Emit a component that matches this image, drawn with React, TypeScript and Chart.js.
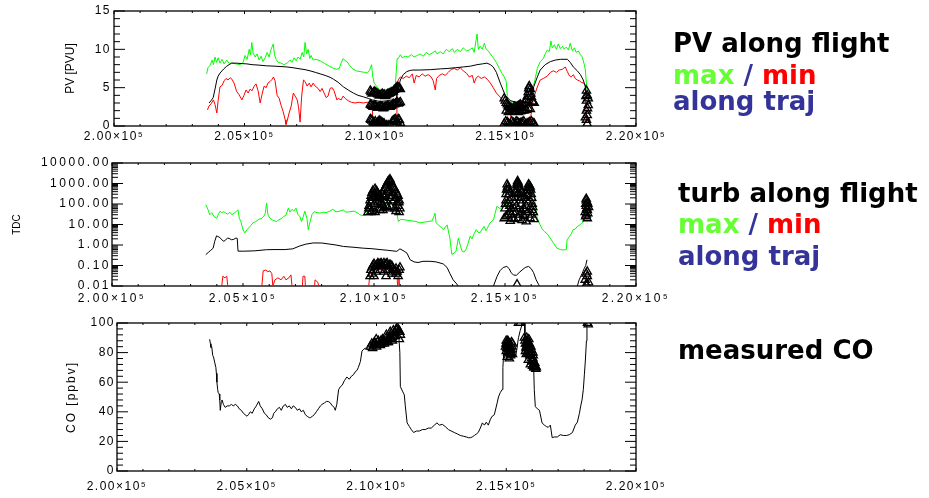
import React, { useEffect, useRef } from "react";
import { Chart, registerables } from "chart.js";
Chart.register(...registerables);

type Pt = [number, number | null];

// ---------- axes ----------
const X_MIN = 200000;
const X_MAX = 220000;
const X_TICKS = [200000, 205000, 210000, 215000, 220000];
const PV_TICKS = [0, 5, 10, 15];
const TDC_TICKS = [0.01, 0.1, 1, 10, 100, 1000, 10000];
const CO_TICKS = [0, 20, 40, 60, 80, 100];

// ---------- panel 1 : PV [PVU] ----------
const PV_MAX: Pt[] = [
  [203550, 6.8], [203600, 7.6], [203680, 7.9], [203760, 8.6], [203810, 8.0], [203870, 9.0], [203930, 8.3],
  [203990, 8.9], [204060, 8.2], [204140, 8.7], [204220, 8.1], [204320, 8.6], [204410, 8.2], [204520, 8.2],
  [204680, 8.1], [204830, 8.0], [204950, 8.3], [205020, 9.2], [205100, 8.7], [205180, 10.0], [205230, 9.3],
  [205280, 10.9], [205330, 9.5], [205410, 9.0], [205480, 9.4], [205560, 8.6], [205640, 9.1], [205710, 8.4],
  [205790, 8.9], [205870, 9.6], [205940, 9.0], [206020, 10.0], [206100, 10.7], [206150, 9.3], [206210, 8.7],
  [206290, 8.3], [206400, 8.2], [206520, 8.0], [206630, 8.2], [206750, 8.6], [206820, 8.3], [206900, 8.9],
  [206980, 8.5], [207050, 9.0], [207130, 8.7], [207210, 9.6], [207270, 9.0], [207320, 10.9], [207380, 9.4],
  [207440, 10.0], [207500, 8.8], [207550, 9.2], [207630, 8.6], [207740, 8.7], [207900, 8.5], [208050, 8.2],
  [208200, 7.9], [208360, 7.6], [208510, 7.4], [208630, 7.5], [208700, 8.2], [208780, 8.8], [208860, 8.5],
  [208930, 8.4], [209050, 7.8], [209160, 7.4], [209280, 7.2], [209430, 7.1], [209590, 7.0], [209700, 6.9],
  [209780, 7.2], [209870, 8.0], [209910, 6.5], [209970, 5.6], [210200, 4.6], [210500, 4.8], [210770, 5.0],
  [210850, 8.8], [210890, 8.8], [210970, 9.3], [211040, 8.9], [211160, 9.1], [211270, 9.0], [211390, 9.3],
  [211500, 9.0], [211620, 9.2], [211730, 9.4], [211850, 9.1], [211960, 9.6], [212080, 9.3], [212190, 9.5],
  [212310, 9.8], [212380, 9.4], [212500, 9.7], [212610, 9.4], [212730, 10.0], [212840, 9.7], [212960, 10.1],
  [213040, 9.6], [213150, 10.0], [213270, 9.7], [213380, 10.2], [213500, 9.8], [213610, 9.9], [213730, 10.2],
  [213800, 9.6], [213910, 12.0], [213960, 10.0], [214030, 10.4], [214110, 10.0], [214190, 10.8], [214260, 10.0],
  [214340, 9.8], [214420, 9.4], [214530, 8.9], [214650, 8.3], [214760, 7.5], [214880, 6.8], [214950, 6.4],
  [215030, 5.8], [215070, 3.8], [215260, 3.0], [215570, 3.2], [215830, 4.0], [215990, 4.9], [216100, 5.6],
  [216220, 7.5], [216330, 8.4], [216450, 8.8], [216520, 9.4], [216600, 9.9], [216680, 9.7], [216740, 11.1],
  [216790, 10.2], [216870, 10.6], [216950, 10.0], [217020, 10.7], [217100, 10.1], [217180, 10.4], [217250, 10.0],
  [217330, 10.3], [217410, 9.9], [217480, 10.8], [217560, 9.8], [217640, 10.2], [217710, 9.6], [217790, 9.8],
  [217870, 9.3], [217940, 9.0], [218020, 8.0], [218060, 7.3], [218120, 4.7],
];
const PV_MIN: Pt[] = [
  [203580, 2.1], [203640, 2.6], [203720, 2.9], [203810, 3.4], [203870, 2.8], [203940, 1.7], [203990, 3.3],
  [204060, 5.1], [204140, 5.3], [204220, 5.9], [204290, 6.2], [204370, 6.0], [204450, 6.3], [204520, 6.1],
  [204600, 5.6], [204700, 4.5], [204790, 4.1], [204900, 3.4], [204980, 4.0], [205060, 4.7], [205140, 4.3],
  [205210, 4.8], [205290, 4.6], [205370, 5.2], [205440, 5.5], [205520, 4.6], [205600, 3.0], [205670, 4.1],
  [205750, 5.2], [205830, 5.0], [205900, 5.6], [205980, 5.8], [206060, 6.1], [206110, 6.4], [206170, 5.9],
  [206250, 4.0], [206330, 3.6], [206400, 2.7], [206480, 1.9], [206560, 0.8], [206590, 0.2], [206630, 0.6],
  [206710, 1.7], [206790, 2.6], [206870, 4.3], [206940, 3.9], [207020, 3.4], [207070, 2.5], [207130, 0.5],
  [207190, 3.9], [207260, 6.0], [207320, 5.8], [207400, 5.2], [207480, 5.6], [207550, 5.1], [207630, 5.6],
  [207710, 5.2], [207820, 4.9], [207900, 4.5], [207970, 4.9], [208050, 4.3], [208130, 3.7], [208200, 3.9],
  [208280, 4.9], [208360, 5.0], [208430, 4.6], [208540, 3.4], [208590, 3.6], [208700, 3.4], [208780, 3.9],
  [208860, 3.6], [208970, 3.3], [209090, 3.1], [209240, 3.0], [209390, 3.1], [209550, 3.0], [209700, 3.1],
  [209820, 3.0], [209890, 2.5], [209930, 0.3], [210200, 0.4], [210580, 0.3], [210810, 0.4], [210840, 5.1],
  [210890, 6.0], [210970, 6.4], [211080, 6.2], [211200, 6.5], [211310, 6.3], [211430, 6.8], [211500, 5.6],
  [211580, 6.6], [211690, 6.4], [211810, 6.8], [211920, 6.5], [212040, 6.7], [212150, 6.4], [212230, 5.9],
  [212310, 4.7], [212360, 6.2], [212460, 6.6], [212580, 6.8], [212690, 6.6], [212810, 7.0], [212920, 7.4],
  [213040, 7.5], [213150, 7.3], [213270, 7.6], [213380, 7.2], [213500, 6.9], [213610, 6.4], [213730, 6.6],
  [213800, 5.6], [213880, 6.3], [213960, 6.5], [214070, 6.2], [214190, 6.4], [214300, 6.1], [214420, 5.6],
  [214530, 5.0], [214650, 4.3], [214760, 3.9], [214880, 3.4], [214950, 2.9], [215030, 2.6], [215110, 2.7],
  [215180, 2.2], [215220, 0.3], [215370, 0.5], [215570, 0.7], [215760, 0.5], [215950, 0.6], [216010, 2.4],
  [216060, 3.4], [216140, 4.3], [216220, 5.1], [216330, 6.0], [216450, 6.2], [216600, 6.5], [216720, 7.0],
  [216830, 7.2], [216950, 7.0], [217060, 7.3], [217180, 7.4], [217290, 7.7], [217370, 7.1], [217440, 6.6],
  [217520, 6.4], [217600, 6.7], [217670, 6.2], [217750, 6.0], [217830, 5.9], [217900, 5.7], [217980, 5.6],
  [218060, 5.4], [218100, 0.5],
];
const PV_TRAJ: Pt[] = [
  [203640, 3.0], [203720, 3.3], [203800, 3.7], [203870, 4.8], [203940, 6.0], [203990, 6.5], [204060, 6.9],
  [204140, 7.2], [204220, 7.5], [204320, 7.8], [204410, 8.0], [204510, 8.2], [204680, 8.2], [204870, 8.15],
  [205090, 8.1], [205290, 8.0], [205520, 7.95], [205850, 7.85], [206170, 7.8], [206620, 7.7], [206860, 7.6],
  [207130, 7.45], [207320, 7.35], [207510, 7.2], [207710, 7.0], [207900, 6.8], [208090, 6.6], [208280, 6.35],
  [208410, 6.1], [208590, 5.7], [208790, 5.1], [208970, 4.7], [209170, 4.3], [209350, 4.0], [209560, 3.8],
  [209740, 3.6], [209890, 3.4], [210200, 3.2], [210500, 3.3], [210810, 3.5], [210890, 4.8], [210970, 6.0],
  [211080, 6.7], [211220, 7.1], [211350, 7.25], [211460, 7.3], [211730, 7.3], [212120, 7.35], [212500, 7.45],
  [212760, 7.5], [213070, 7.6], [213380, 7.7], [213650, 7.8], [213910, 8.0], [214110, 8.1], [214290, 8.2],
  [214420, 8.0], [214530, 7.7], [214650, 7.0], [214800, 5.6], [214990, 4.0], [215180, 3.3], [215570, 3.0],
  [215870, 3.3], [215990, 4.0], [216080, 5.1], [216220, 6.4], [216330, 7.3], [216520, 8.0], [216720, 8.4],
  [216910, 8.6], [217100, 8.7], [217370, 8.7], [217480, 8.3], [217600, 7.7], [217750, 7.2], [217870, 6.7],
  [217980, 6.0], [218060, 5.1], [218110, 3.8],
];
const PV_TRI: Pt[] = [
  [209820, 4.6], [209890, 4.2], [209970, 4.5], [210050, 4.3], [210120, 4.1], [210200, 4.0], [210280, 4.2],
  [210350, 4.1], [210430, 4.0], [210500, 4.2], [210580, 4.3], [210660, 4.4], [210740, 4.7], [210810, 4.9],
  [210890, 5.0], [210970, 4.8],
  [209850, 4.4], [209930, 4.3], [210010, 4.4], [210090, 4.2], [210160, 4.0], [210240, 4.1], [210320, 4.0],
  [210390, 3.9], [210470, 4.1], [210540, 4.2], [210620, 4.4], [210700, 4.5], [210780, 4.8], [210850, 5.1],
  [210930, 4.9],
  [209820, 2.8], [209890, 2.6], [209970, 2.7], [210050, 2.5], [210120, 2.4], [210200, 2.6], [210280, 2.5],
  [210350, 2.4], [210430, 2.5], [210500, 2.6], [210580, 2.5], [210660, 2.7], [210740, 2.8], [210810, 3.0],
  [210890, 2.9], [210970, 3.1],
  [209850, 2.7], [209930, 2.5], [210010, 2.6], [210090, 2.4], [210160, 2.5], [210240, 2.5], [210320, 2.3],
  [210390, 2.5], [210470, 2.6], [210540, 2.5], [210620, 2.6], [210700, 2.9], [210780, 2.9], [210850, 3.1],
  [210930, 3.0],
  [209820, 0.9], [209890, 0.7], [209970, 0.4], [210050, 0.3], [210120, 0.5], [210200, 0.6], [210280, 0.4],
  [210350, 0.3], [210430, 0.1], [210500, 0.1], [210580, 0.1], [210660, 0.6], [210740, 0.8], [210810, 0.5],
  [210890, 0.9], [210970, 0.4], [209850, 0.8], [209930, 0.5], [210010, 0.6], [210090, 0.4], [210160, 0.7],
  [210240, 0.5], [210320, 0.3], [210700, 0.7], [210780, 0.9], [210850, 0.6], [210930, 0.8],
  [214950, 3.6], [215030, 3.0], [215110, 2.6], [215180, 2.4], [215260, 2.2], [215340, 2.5], [215410, 2.3],
  [215490, 2.6], [215570, 2.8], [215640, 2.4], [215720, 3.0], [215800, 3.4], [215870, 4.4], [215910, 5.2],
  [215950, 4.8], [215990, 3.8], [216030, 3.2], [216100, 3.0], [215030, 2.0], [215180, 1.9], [215340, 2.0],
  [215490, 1.8], [215640, 2.0], [215800, 2.1], [215950, 2.2],
  [214990, 3.3], [215070, 2.8], [215150, 2.5], [215220, 2.3], [215300, 2.3], [215380, 2.4], [215450, 2.5],
  [215530, 2.7], [215600, 2.6], [215680, 2.7], [215760, 3.2], [215840, 3.9], [215890, 4.9], [215970, 4.2],
  [216060, 3.1], [215110, 1.8], [215260, 1.9], [215410, 1.9], [215570, 1.9], [215720, 2.0], [215870, 2.3],
  [214950, 0.3], [215070, 0.5], [215180, 0.2], [215300, 0.4], [215410, 0.6], [215530, 0.3], [215640, 0.5],
  [215760, 0.2], [215870, 0.4], [215990, 0.6], [216100, 0.3], [215010, 0.6], [215120, 0.3], [215240, 0.6],
  [215360, 0.3], [215470, 0.5], [215590, 0.4], [215700, 0.6], [215820, 0.3], [215930, 0.5], [216050, 0.4],
  [218100, 4.6], [218130, 4.0], [218100, 3.3], [218170, 2.7], [218100, 2.0], [218130, 1.4], [218100, 0.8],
  [218130, 0.3], [218060, 1.1], [218170, 3.6], [218140, 2.3], [218080, 3.9],
];

// ---------- panel 2 : TDC ----------
const TDC_MAX: Pt[] = [
  [203580, 93], [203660, 55], [203730, 30], [203810, 38], [203890, 25], [203990, 20], [204040, 28],
  [204120, 44], [204190, 38], [204270, 42], [204340, 36], [204420, 32], [204500, 40], [204570, 30],
  [204690, 38], [204760, 45], [204810, 52], [204860, 20], [204920, 14], [204990, 6], [205070, 3.9],
  [205150, 5.5], [205220, 7], [205300, 9], [205380, 12], [205490, 14], [205610, 18], [205720, 20],
  [205800, 26], [205850, 35], [205900, 112], [205950, 30], [206030, 20], [206140, 16], [206280, 14],
  [206370, 17], [206480, 20], [206560, 25], [206640, 28], [206730, 63], [206790, 40], [206870, 55],
  [206940, 45], [207020, 63], [207100, 30], [207170, 25], [207230, 14], [207290, 22], [207360, 45],
  [207440, 20], [207490, 5.6], [207550, 12], [207630, 30], [207710, 42], [207820, 38], [207940, 36],
  [208050, 40], [208170, 38], [208320, 45], [208430, 55], [208550, 42], [208700, 45], [208820, 52],
  [208930, 40], [209080, 42], [209240, 45], [209390, 36], [209460, 30], [209580, 27], [209690, 28],
  [209770, 50], [210040, 60], [210310, 80], [210610, 120], [210840, 60], [210930, 14], [211030, 18],
  [211150, 17], [211300, 16], [211450, 15], [211600, 14], [211760, 12], [211910, 13], [212060, 14],
  [212220, 15], [212330, 36], [212370, 12], [212480, 9], [212650, 5.6], [212790, 9.6], [212900, 2],
  [212970, 0.35], [213060, 0.4], [213130, 0.5], [213220, 2.2], [213290, 1.0], [213360, 0.5], [213440, 0.45],
  [213510, 0.6], [213590, 1.2], [213670, 2.7], [213740, 2.0], [213820, 3.5], [213900, 5.6], [213970, 4.2],
  [214050, 4], [214130, 6], [214200, 8], [214280, 5], [214360, 8], [214430, 12], [214510, 15], [214560, 17],
  [214690, 77], [214810, 60], [214930, 80], [215120, 100], [215350, 150], [215580, 200], [215810, 300],
  [215960, 1050], [216040, 900], [216110, 300], [216220, 25], [216270, 15], [216340, 9.6], [216420, 6],
  [216500, 4.6], [216610, 3.5], [216720, 2.2], [216840, 1.3], [216980, 0.7], [217110, 0.6], [217220, 0.57],
  [217340, 0.6], [217370, 1.8], [217450, 2.5], [217530, 3.5], [217600, 5.6], [217680, 6], [217760, 8],
  [217830, 9], [217910, 11], [218000, 14], [218060, 25], [218130, 50],
];
const TDC_MIN: Pt[] = [
  [203580, 0.004], [204120, 0.004], [204190, 0.01], [204230, 0.03], [204310, 0.025], [204380, 0.03],
  [204420, 0.01], [204460, 0.004], [205570, 0.004], [205720, 0.01], [205770, 0.055], [205870, 0.06],
  [205950, 0.05], [206030, 0.055], [206100, 0.04], [206140, 0.01], [206220, 0.02], [206330, 0.025],
  [206450, 0.02], [206560, 0.03], [206640, 0.02], [206750, 0.025], [206830, 0.035], [206870, 0.01],
  [206940, 0.004], [207250, 0.004], [207290, 0.03], [207360, 0.03], [207400, 0.004], [207710, 0.004],
  [207750, 0.02], [207860, 0.015], [207940, 0.004], [209770, 0.004], [209850, 0.05], [210040, 0.08],
  [210230, 0.06], [210460, 0.07], [210690, 0.04], [210880, 0.03], [210920, 0.004], [210950, 0.03],
  [210990, 0.004], [218020, 0.004], [218080, 0.03], [218140, 0.02], [218190, 0.004],
];
const TDC_TRAJ: Pt[] = [
  [203580, 0.34], [203690, 0.45], [203770, 0.55], [203860, 0.7], [203920, 1.5], [203990, 2.8], [204040, 2.6],
  [204120, 2.3], [204190, 1.8], [204270, 1.5], [204340, 1.8], [204420, 2.2], [204500, 2.0], [204570, 1.8],
  [204650, 1.9], [204730, 2.2], [204780, 2.1], [204810, 0.5], [205070, 0.5], [205450, 0.52], [205900, 0.59],
  [206220, 0.6], [206600, 0.6], [206900, 0.65], [207170, 0.9], [207400, 1.1], [207680, 1.26], [208010, 1.25],
  [208320, 1.1], [208550, 1.0], [208830, 0.85], [209200, 0.78], [209590, 0.7], [209920, 0.66], [210230, 0.6],
  [210530, 0.55], [210870, 0.49], [210990, 0.65], [211150, 0.5], [211260, 0.4], [211380, 0.19], [211530, 0.15],
  [211680, 0.14], [211870, 0.16], [212140, 0.16], [212370, 0.15], [212640, 0.12], [212790, 0.08], [212900, 0.04],
  [213020, 0.02], [213160, 0.0125], [213250, 0.008], [213480, 0.004], [214050, 0.004], [214430, 0.006],
  [214560, 0.01], [214700, 0.03], [214810, 0.056], [214930, 0.08], [215070, 0.09], [215160, 0.07],
  [215230, 0.045], [215320, 0.035], [215430, 0.033], [215540, 0.045], [215650, 0.06], [215770, 0.08],
  [215900, 0.09], [216000, 0.07], [216090, 0.045], [216190, 0.02], [216280, 0.012], [216380, 0.006],
  [216920, 0.004], [217490, 0.004], [217740, 0.008], [217830, 0.02], [217940, 0.04], [218020, 0.07],
  [218080, 0.1], [218130, 0.19],
];
const TDC_TRI: Pt[] = [
  [209770, 40], [209810, 80], [209850, 150], [209890, 250], [209920, 350], [209960, 450], [210040, 550],
  [210110, 400], [210150, 300], [210230, 250], [210310, 300], [210380, 500], [210460, 800], [210530, 1200],
  [210610, 1600], [210650, 1100], [210690, 900], [210760, 600], [210840, 400], [210920, 250], [210950, 120],
  [210990, 60], [209850, 60], [210000, 100], [210150, 120], [210310, 90], [210460, 150], [210610, 200],
  [210760, 150], [210920, 80], [209920, 200], [210080, 250], [210230, 180], [210380, 220], [210530, 400],
  [210690, 350], [210840, 200], [209920, 45], [210230, 50], [210530, 60], [210840, 45], [210380, 70],
  [209800, 60], [209880, 120], [209960, 200], [210000, 300], [210070, 450], [210120, 350], [210190, 200],
  [210270, 220], [210340, 400], [210420, 600], [210500, 1000], [210570, 1400], [210630, 1300], [210720, 700],
  [210800, 500], [210880, 300], [210960, 150], [209880, 40], [210040, 40], [210190, 60], [210340, 50],
  [210500, 80], [210650, 70], [210800, 60], [210960, 40], [210120, 150], [210270, 120], [210420, 250],
  [210570, 500], [210720, 250], [210880, 120],
  [209850, 0.03], [209920, 0.08], [210000, 0.12], [210080, 0.1], [210150, 0.13], [210230, 0.12], [210310, 0.11],
  [210380, 0.13], [210460, 0.12], [210530, 0.1], [210610, 0.11], [210690, 0.09], [210760, 0.06], [210840, 0.04],
  [210920, 0.03], [210990, 0.08], [209920, 0.04], [210080, 0.05], [210230, 0.06], [210380, 0.05], [210530, 0.06],
  [210690, 0.04], [210840, 0.07], [210000, 0.03], [210460, 0.03], [209880, 0.06], [209960, 0.1], [210040, 0.09],
  [210120, 0.11], [210190, 0.1], [210270, 0.13], [210340, 0.09], [210420, 0.1], [210500, 0.13], [210570, 0.09],
  [210650, 0.1], [210720, 0.07], [210800, 0.05], [210880, 0.05], [210960, 0.06],
  [214970, 20], [215000, 60], [215040, 300], [215080, 900], [215120, 500], [215160, 150], [215200, 40],
  [215270, 20], [215350, 60], [215390, 200], [215430, 500], [215460, 1000], [215500, 1100], [215540, 700],
  [215580, 300], [215620, 100], [215650, 40], [215730, 25], [215810, 80], [215850, 250], [215880, 600],
  [215920, 800], [215960, 700], [216000, 300], [216040, 100], [216080, 40], [216110, 18], [215040, 25],
  [215200, 15], [215350, 18], [215500, 20], [215650, 16], [215810, 14], [215960, 20], [215120, 100],
  [215270, 200], [215430, 80], [215580, 150], [215730, 200], [215880, 120], [216040, 50], [215200, 400],
  [215650, 400], [215880, 300], [215040, 150], [215500, 300], [215460, 0.012],
  [215020, 100], [215060, 500], [215100, 700], [215140, 300], [215180, 80], [215240, 30], [215310, 40],
  [215370, 120], [215410, 350], [215450, 800], [215480, 1300], [215520, 900], [215560, 500], [215600, 200],
  [215700, 30], [215760, 50], [215830, 150], [215860, 450], [215900, 900], [215940, 600], [215980, 500],
  [216020, 200], [216060, 70], [215100, 30], [215250, 60], [215400, 40], [215560, 30], [215700, 60],
  [215860, 40], [216020, 30],
  [218100, 180], [218140, 120], [218100, 80], [218140, 50], [218100, 30], [218140, 20], [218060, 40],
  [218190, 70], [218100, 150], [218080, 100], [218120, 60], [218160, 100], [218080, 25], [218160, 35],
  [218060, 0.02], [218100, 0.04], [218140, 0.03], [218190, 0.015], [218100, 0.012], [218140, 0.05],
];

// ---------- panel 3 : CO [ppbv] ----------
const CO_MEAS: Pt[] = [
  [203570, 89], [203600, 86], [203620, 83.5], [203650, 84], [203690, 78], [203720, 77], [203770, 73],
  [203810, 70], [203830, 66], [203850, 60], [203880, 55], [203900, 53], [203940, 52], [203960, 48],
  [203980, 41], [204020, 47], [204050, 48], [204100, 45], [204170, 43], [204250, 44], [204330, 44],
  [204410, 45], [204480, 44], [204560, 45], [204640, 44], [204710, 42], [204790, 41], [204870, 39],
  [204940, 38], [205010, 37], [205060, 38], [205140, 40], [205210, 39], [205290, 42], [205370, 44],
  [205460, 47], [205520, 44], [205600, 42], [205680, 39], [205750, 38], [205830, 36], [205910, 35],
  [205990, 36], [206040, 39], [206100, 40], [206180, 42], [206260, 43], [206330, 41], [206410, 44],
  [206490, 45], [206560, 43], [206640, 44], [206720, 42], [206790, 44], [206870, 43], [206950, 41],
  [207030, 42], [207100, 40], [207180, 41], [207260, 38], [207330, 37], [207410, 36], [207450, 36],
  [207530, 37], [207600, 38], [207680, 40], [207760, 42], [207840, 44], [207900, 45], [207990, 46],
  [208070, 47], [208140, 47], [208220, 46], [208300, 44], [208370, 43], [208410, 41], [208470, 45],
  [208540, 55], [208610, 57], [208680, 58], [208760, 61], [208860, 63.5], [208950, 62], [209030, 64],
  [209110, 65], [209180, 67], [209250, 68], [209300, 70], [209380, 74], [209440, 81], [209490, 82],
  [209570, 83], [209690, 82], [209800, 83], [209920, 84], [210030, 84], [210150, 85], [210260, 86],
  [210380, 86], [210490, 88], [210610, 90], [210730, 94.7], [210800, 93], [210860, 91], [210900, 80],
  [210920, 57], [211000, 54], [211070, 51.5], [211110, 44], [211180, 32.5], [211270, 30], [211340, 28],
  [211430, 26], [211540, 27], [211650, 27], [211770, 28], [211880, 28], [212000, 29], [212110, 29],
  [212230, 31], [212330, 32.5], [212420, 31], [212540, 31.5], [212650, 30], [212770, 28], [212880, 27],
  [213000, 26], [213120, 25], [213230, 24], [213350, 23.5], [213460, 23], [213540, 22.5], [213620, 22.5],
  [213690, 23], [213770, 24], [213850, 25], [213920, 26], [214000, 29], [214080, 32.5], [214160, 31],
  [214230, 33], [214310, 31], [214390, 35], [214460, 37], [214540, 38], [214650, 46], [214700, 50],
  [214770, 53], [214840, 55], [214870, 70], [214900, 79], [214970, 83], [215040, 85], [215120, 84],
  [215200, 86], [215270, 82], [215350, 77], [215390, 80], [215470, 90], [215540, 95], [215610, 99],
  [215660, 104], [215700, 104], [215720, 89], [215770, 86], [215850, 80], [215930, 75], [216010, 71],
  [216060, 68], [216080, 55], [216120, 43.5], [216200, 42], [216280, 41], [216380, 32.5], [216470, 31],
  [216550, 30], [216620, 29.5], [216700, 31], [216770, 22.5], [216850, 23], [216970, 23], [217080, 24.5],
  [217200, 24], [217320, 24], [217430, 24.5], [217550, 26], [217660, 31], [217740, 33], [217820, 39],
  [217870, 44], [217920, 48], [217970, 55], [218010, 65], [218050, 75], [218090, 88], [218110, 99],
  [218130, 104],
];
const CO_TRI: Pt[] = [
  [209760, 84], [209880, 85], [209990, 85], [210110, 86], [210230, 87], [210340, 87], [210460, 89],
  [210570, 90], [210690, 93], [210760, 95], [210840, 94], [210920, 92], [209920, 87], [210070, 88],
  [210230, 89], [210380, 90], [210530, 92], [210650, 95], [210800, 97], [210880, 89], [210150, 85],
  [210300, 86], [210460, 87], [210610, 88], [210730, 91], [209990, 89], [210380, 92], [210530, 94],
  [209820, 86], [209940, 86], [210050, 87], [210170, 88], [210280, 88], [210400, 88], [210510, 90],
  [210630, 91], [210710, 94], [210780, 96], [210860, 95], [210900, 94], [209850, 83], [210000, 84],
  [210200, 86], [210420, 87], [210590, 89],
  [215000, 88], [215040, 85], [215080, 83], [215120, 80], [215160, 78], [215000, 81], [215080, 87],
  [215160, 84], [215200, 82], [215240, 79], [215040, 77], [215120, 76], [215240, 86], [214970, 84],
  [214990, 86], [215020, 83], [215060, 80], [215100, 85], [215140, 82], [215180, 79], [215220, 84],
  [215060, 88], [215200, 87],
  [215470, 100], [215540, 100], [218130, 100], [218160, 99],
  [215700, 90], [215740, 86], [215770, 84], [215810, 88], [215850, 82], [215890, 80], [215930, 78],
  [215970, 76], [216010, 74], [216040, 72], [216080, 70], [216120, 71], [215770, 79], [215850, 75],
  [215930, 72], [216010, 71], [215810, 85], [215890, 86], [215970, 82], [216040, 78], [216160, 70],
  [215740, 81], [215720, 88], [215760, 83], [215790, 86], [215830, 80], [215870, 84], [215910, 78],
  [215950, 80], [215990, 74], [216030, 76], [216060, 70], [216100, 73], [216140, 69], [215790, 90],
  [215870, 89], [215950, 84], [216030, 80],
];

// ---------- styling ----------
const GREEN = "#00ff00";
const RED = "#ff0000";
const BLACK = "#000000";
const TICK_FONT = "'Liberation Sans', Arial, Helvetica, sans-serif";

const toXY = (a: Pt[]) => a.map(([x, y]) => ({ x, y }));

const lineDs = (d: Pt[], color: string) => ({
  data: toXY(d),
  showLine: true,
  borderColor: color,
  backgroundColor: color,
  borderWidth: 1,
  pointRadius: 0,
  tension: 0,
  spanGaps: false,
});
const triDs = (d: Pt[]) => ({
  data: toXY(d),
  showLine: false,
  pointStyle: "triangle",
  pointRadius: 4.8,
  pointBorderColor: BLACK,
  pointBackgroundColor: "rgba(0,0,0,0)",
  pointBorderWidth: 1.3,
  borderColor: BLACK,
  backgroundColor: "rgba(0,0,0,0)",
});

const idlPlugin = {
  id: "idl",
  beforeDraw(chart: any, _a: any, o: any) {
    chart.ctx.letterSpacing = o.tickSpacing;
  },
  beforeDatasetsDraw(chart: any, _a: any, o: any) {
    const { ctx, chartArea: ca, scales } = chart;
    const xs = scales.x;
    const ys = scales.y;
    ctx.save();
    ctx.strokeStyle = "#000";
    ctx.lineWidth = 1;
    ctx.beginPath();
    for (let v = X_MIN; v <= X_MAX; v += 1000) {
      const px = xs.getPixelForValue(v);
      const len = v % 5000 === 0 ? o.xMajorLen : o.xMinorLen;
      ctx.moveTo(px, ca.bottom);
      ctx.lineTo(px, ca.bottom - len);
      ctx.moveTo(px, ca.top);
      ctx.lineTo(px, ca.top + len);
    }
    const yt: [number, boolean][] = [];
    if (o.log) {
      for (let e = Math.round(Math.log10(ys.min)); e < Math.round(Math.log10(ys.max)); e++) {
        for (let k = 1; k < 10; k++) yt.push([k * Math.pow(10, e), k === 1]);
      }
      yt.push([ys.max, true]);
    } else {
      for (let v = ys.min; v <= ys.max + 1e-9; v += o.yMinor) {
        const r = v / o.yMajor;
        yt.push([v, Math.abs(r - Math.round(r)) < 1e-6]);
      }
    }
    for (const [v, major] of yt) {
      const py = ys.getPixelForValue(v);
      const len = major ? o.yMajorLen : o.yMinorLen;
      ctx.moveTo(ca.left, py);
      ctx.lineTo(ca.left + len, py);
      ctx.moveTo(ca.right, py);
      ctx.lineTo(ca.right - len, py);
    }
    ctx.stroke();
    ctx.lineWidth = 1.3;
    ctx.strokeRect(ca.left, ca.top, ca.right - ca.left, ca.bottom - ca.top);
    ctx.restore();
  },
  afterDraw(chart: any, _a: any, o: any) {
    const { ctx, chartArea: ca } = chart;
    ctx.save();
    ctx.letterSpacing = o.titleSpacing;
    ctx.font = o.titleFont;
    ctx.fillStyle = "#000";
    ctx.translate(o.titleX, (ca.top + ca.bottom) / 2);
    ctx.rotate(-Math.PI / 2);
    ctx.textAlign = "center";
    ctx.textBaseline = "middle";
    ctx.fillText(o.title, 0, 0);
    ctx.restore();
  },
};

type PanelProps = {
  top: number;
  height: number;
  width: number;
  padTop: number;
  padRight: number;
  xHeight: number;
  xPad: number;
  yWidth: number;
  yPad: number;
  yType: "linear" | "logarithmic";
  yMin: number;
  yMax: number;
  yTicks: number[];
  yFmt: (v: number) => string;
  datasets: any[];
  idl: any;
};

function Panel(p: PanelProps) {
  const ref = useRef<HTMLCanvasElement | null>(null);
  useEffect(() => {
    if (!ref.current) return;
    const chart = new Chart(ref.current, {
      type: "scatter",
      data: { datasets: p.datasets },
      plugins: [idlPlugin as any],
      options: {
        animation: false,
        responsive: false,
        maintainAspectRatio: false,
        events: [],
        layout: { padding: { left: 0, right: p.padRight, top: p.padTop, bottom: 0 } },
        plugins: {
          legend: { display: false },
          tooltip: { enabled: false },
          idl: p.idl,
        } as any,
        scales: {
          x: {
            type: "linear",
            min: X_MIN,
            max: X_MAX,
            grid: { display: false, drawTicks: false },
            border: { display: false },
            afterBuildTicks: (s: any) => {
              s.ticks = X_TICKS.map((v) => ({ value: v }));
            },
            afterFit: (s: any) => {
              s.height = p.xHeight;
            },
            ticks: {
              autoSkip: false,
              maxRotation: 0,
              minRotation: 0,
              padding: p.xPad,
              color: "#000",
              font: { family: TICK_FONT, size: 12 },
              callback: (v: any) => (Number(v) / 1e5).toFixed(2) + "×10⁵",
            },
          },
          y: {
            type: p.yType,
            min: p.yMin,
            max: p.yMax,
            grid: { display: false, drawTicks: false },
            border: { display: false },
            afterBuildTicks: (s: any) => {
              s.ticks = p.yTicks.map((v) => ({ value: v }));
            },
            afterFit: (s: any) => {
              s.width = p.yWidth;
            },
            ticks: {
              autoSkip: false,
              padding: p.yPad,
              color: "#000",
              font: { family: TICK_FONT, size: 12 },
              callback: (v: any) => p.yFmt(Number(v)),
            },
          },
        } as any,
      },
    });
    return () => chart.destroy();
  }, []);
  return (
    <canvas
      ref={ref}
      width={p.width}
      height={p.height}
      style={{ position: "absolute", left: 0, top: p.top, width: p.width, height: p.height }}
    />
  );
}

const labelFont = "bold 26px 'DejaVu Sans', Verdana, sans-serif";
const lbl = (left: number, top: number): React.CSSProperties => ({
  position: "absolute",
  left,
  top,
  font: labelFont,
  lineHeight: "26px",
  whiteSpace: "nowrap",
  color: "#000",
});
const C_MAX = "#66ff33";
const C_MIN = "#ff0000";
const C_TRAJ = "#333399";

export default function App() {
  return (
    <div
      style={{
        position: "fixed",
        left: 0,
        top: 0,
        width: 929,
        height: 498,
        background: "#fff",
        overflow: "hidden",
      }}
    >
      <Panel
        top={0}
        height={145}
        width={680}
        padTop={11}
        padRight={44}
        xHeight={19}
        xPad={3}
        yWidth={114}
        yPad={3}
        yType="linear"
        yMin={0}
        yMax={15}
        yTicks={PV_TICKS}
        yFmt={(v) => String(v)}
        datasets={[triDs(PV_TRI), lineDs(PV_TRAJ, BLACK), lineDs(PV_MIN, RED), lineDs(PV_MAX, GREEN)]}
        idl={{
          tickSpacing: "1.5px",
          xMajorLen: 3,
          xMinorLen: 2,
          yMajorLen: 11,
          yMinorLen: 6,
          yMajor: 5,
          yMinor: 1,
          log: false,
          title: "PV [PVU]",
          titleX: 71,
          titleFont: "12px 'Liberation Sans', Arial, sans-serif",
          titleSpacing: "0px",
        }}
      />
      <Panel
        top={145}
        height={160}
        width={680}
        padTop={18}
        padRight={44}
        xHeight={19}
        xPad={5}
        yWidth={112}
        yPad={1}
        yType="logarithmic"
        yMin={0.01}
        yMax={10000}
        yTicks={TDC_TICKS}
        yFmt={(v) => v.toFixed(2)}
        datasets={[triDs(TDC_TRI), lineDs(TDC_TRAJ, BLACK), lineDs(TDC_MIN, RED), lineDs(TDC_MAX, GREEN)]}
        idl={{
          tickSpacing: "2.5px",
          xMajorLen: 3,
          xMinorLen: 2,
          yMajorLen: 11,
          yMinorLen: 6,
          log: true,
          title: "TDC",
          titleX: 17,
          titleFont: "10px 'Liberation Sans', Arial, sans-serif",
          titleSpacing: "0px",
        }}
      />
      <Panel
        top={305}
        height={193}
        width={680}
        padTop={18}
        padRight={44}
        xHeight={27}
        xPad={8}
        yWidth={117}
        yPad={2}
        yType="linear"
        yMin={0}
        yMax={100}
        yTicks={CO_TICKS}
        yFmt={(v) => String(v)}
        datasets={[triDs(CO_TRI), lineDs(CO_MEAS, BLACK)]}
        idl={{
          tickSpacing: "1.5px",
          xMajorLen: 3,
          xMinorLen: 2,
          yMajorLen: 11,
          yMinorLen: 6,
          yMajor: 20,
          yMinor: 4,
          log: false,
          title: "CO [ppbv]",
          titleX: 72,
          titleFont: "12px 'Liberation Sans', Arial, sans-serif",
          titleSpacing: "2px",
        }}
      />

      <div style={lbl(673, 30)}>PV along flight</div>
      <div style={lbl(673, 62)}>
        <span style={{ color: C_MAX }}>max</span>
        <span style={{ color: C_TRAJ }}> / </span>
        <span style={{ color: C_MIN }}>min</span>
      </div>
      <div style={{ ...lbl(673, 88), color: C_TRAJ }}>along traj</div>

      <div style={lbl(678, 180)}>turb along flight</div>
      <div style={lbl(678, 211)}>
        <span style={{ color: C_MAX }}>max</span>
        <span style={{ color: C_TRAJ }}> / </span>
        <span style={{ color: C_MIN }}>min</span>
      </div>
      <div style={{ ...lbl(678, 243), color: C_TRAJ }}>along traj</div>

      <div style={lbl(678, 337)}>measured CO</div>
    </div>
  );
}
